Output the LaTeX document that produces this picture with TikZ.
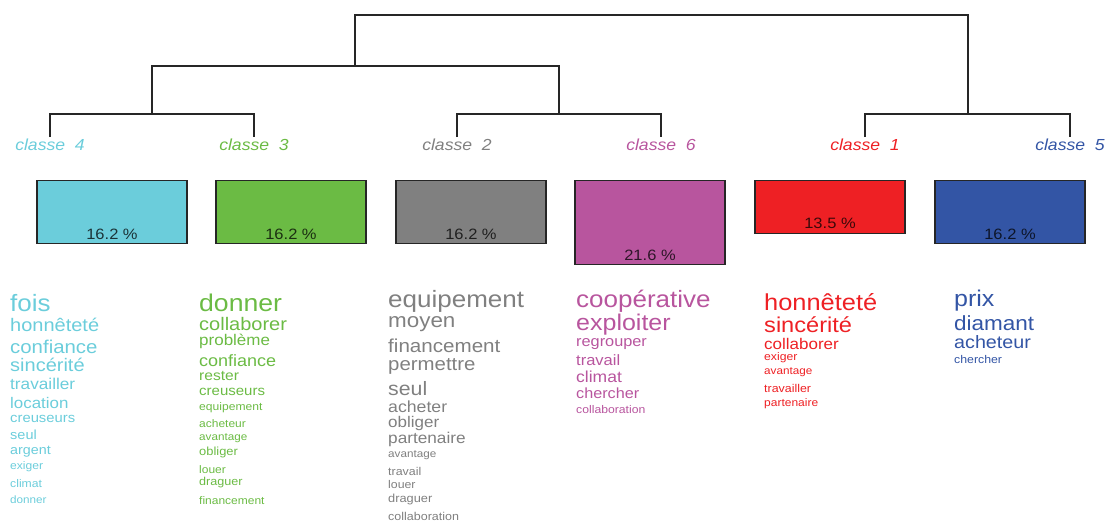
\documentclass[tikz,border=0pt]{standalone}
\usepackage{fontspec}
\setmainfont[FakeStretch=1.1]{Liberation Sans}
\definecolor{cun}{HTML}{EE2024}
\definecolor{cdeux}{HTML}{808080}
\definecolor{ctrois}{HTML}{6BBB44}
\definecolor{cquatre}{HTML}{6BCDDB}
\definecolor{ccinq}{HTML}{3355A5}
\definecolor{csix}{HTML}{B8559E}
\tikzset{
  arbre/.style={line width=1.3pt, black!85},
  classe/.style={font=\fontsize{16}{16}\selectfont\itshape, inner sep=1pt, anchor=base},
  boite/.style={draw=black!85, line width=1.2pt, minimum width=150pt, anchor=north},
  pct/.style={font=\fontsize{15}{15}\selectfont, inner sep=0pt, anchor=base},
  mot/.style={inner sep=0pt, anchor=base west}
}
\begin{document}
\begin{tikzpicture}[x=1pt,y=-1pt]
\useasboundingbox (0,0) rectangle (1109,522);
\foreach \xx/\nn/\cc in {50/4/cquatre,254/3/ctrois,457/2/cdeux,661/6/csix,865/1/cun,1070/5/ccinq}
  {\node[classe,text=\cc] (c\nn) at (\xx,150) {classe\ \ \nn};}
\coordinate (k43) at (152,114);
\coordinate (k26) at (559,114);
\coordinate (k15) at (968,114);
\coordinate (k4326) at (355,66);
\coordinate (racine) at (661,15);
\draw[arbre] (c4.north) |- (k43) -| (c3.north);
\draw[arbre] (c2.north) |- (k26) -| (c6.north);
\draw[arbre] (c1.north) |- (k15) -| (c5.north);
\draw[arbre] (k43) |- (k4326) -| (k26);
\draw[arbre] (k4326) |- (racine) -| (k15);
\foreach \xx/\nn/\pp/\cc in {112/4/16.2/cquatre,291/3/16.2/ctrois,471/2/16.2/cdeux,650/6/21.6/csix,830/1/13.5/cun,1010/5/16.2/ccinq}
  {\node[boite,fill=\cc,minimum height=3.89pt*\pp] (b\nn) at (\xx,180) {};
   \node[pct,text=\cc!25!black] (p\nn) at ([yshift=5pt]b\nn.south) {\pp\ \%};}
\foreach \yy/\ss/\ww [count=\i] in {311/26/fois,331/20/honnêteté,353/20.4/confiance,371/20/sincérité,389/17.2/travailler,408/16.9/location,422/14.8/creuseurs,439/14.5/seul,454/14.3/argent,469/12.1/exiger,487/12.2/climat,503/11.7/donner}
  {\pgfmathsetmacro\fs{\ss/1.1}\node[mot,text=cquatre,font=\fontsize{\fs}{\fs}\selectfont] (m4-\i) at (10,\yy) {\ww};}
\foreach \yy/\ss/\ww [count=\i] in {311/26.6/donner,330/20/collaborer,345/17/problème,366/18/confiance,380/15.6/rester,395/15/creuseurs,410/12.1/equipement,427/12/acheteur,440/11.7/avantage,455/12.9/obliger,473/12/louer,485/12.6/draguer,504/12/financement}
  {\pgfmathsetmacro\fs{\ss/1.1}\node[mot,text=ctrois,font=\fontsize{\fs}{\fs}\selectfont] (m3-\i) at (199,\yy) {\ww};}
\foreach \yy/\ss/\ww [count=\i] in {307/26/equipement,327/22.4/moyen,352/20.6/financement,370/20.4/permettre,395/21.3/seul,412/17.7/acheter,427/17/obliger,443/17.2/partenaire,457/11.7/avantage,475/12.4/travail,488/12.3/louer,502/12.8/draguer,520/12.5/collaboration}
  {\pgfmathsetmacro\fs{\ss/1.1}\node[mot,text=cdeux,font=\fontsize{\fs}{\fs}\selectfont] (m2-\i) at (388,\yy) {\ww};}
\foreach \yy/\ss/\ww [count=\i] in {307/26/coopérative,330/25/exploiter,346/16.3/regrouper,365/16.5/travail,382/17.5/climat,398/16.2/chercher,413/12.2/collaboration}
  {\pgfmathsetmacro\fs{\ss/1.1}\node[mot,text=csix,font=\fontsize{\fs}{\fs}\selectfont] (m6-\i) at (576,\yy) {\ww};}
\foreach \yy/\ss/\ww [count=\i] in {310/25.4/honnêteté,332/23.6/sincérité,349/17/collaborer,360/12.2/exiger,374/11.7/avantage,392/12.4/travailler,406/12/partenaire}
  {\pgfmathsetmacro\fs{\ss/1.1}\node[mot,text=cun,font=\fontsize{\fs}{\fs}\selectfont] (m1-\i) at (764,\yy) {\ww};}
\foreach \yy/\ss/\ww [count=\i] in {306/25/prix,330/22.5/diamant,348/19.7/acheteur,363/12.3/chercher}
  {\pgfmathsetmacro\fs{\ss/1.1}\node[mot,text=ccinq,font=\fontsize{\fs}{\fs}\selectfont] (m5-\i) at (954,\yy) {\ww};}
\end{tikzpicture}
\end{document}
